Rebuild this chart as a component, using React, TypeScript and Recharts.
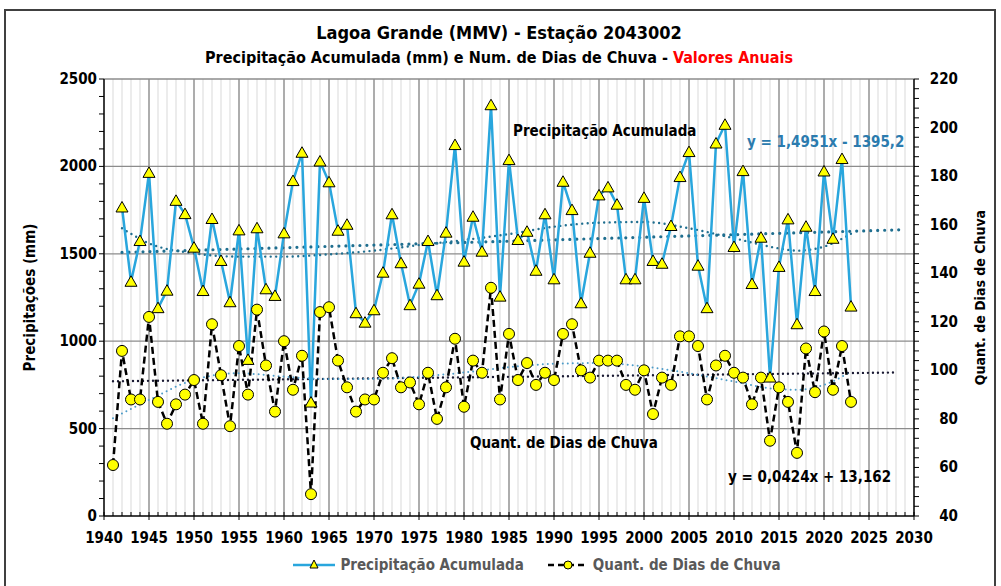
import React from "react";
import {
  ComposedChart,
  Line,
  XAxis,
  YAxis,
  CartesianGrid,
  ReferenceLine,
  Legend,
} from "recharts";

// annual values
const PRECIP_START = 1942;
const precipitacao = [
  1765, 1340, 1573, 1963, 1189, 1289, 1803, 1727, 1535, 1287, // 1942-1951
  1699, 1459, 1223, 1634, 893, 1646, 1297, 1259, 1617, 1916, // 1952-1961
  2078, 649, 2028, 1909, 1632, 1666, 1160, 1106, 1177, 1392, // 1962-1971
  1726, 1446, 1206, 1329, 1573, 1263, 1621, 2122, 1455, 1712, // 1972-1981
  1512, 2350, 1255, 2036, 1579, 1626, 1403, 1726, 1354, 1912, // 1982-1991
  1750, 1217, 1506, 1834, 1880, 1781, 1354, 1354, 1820, 1459, // 1992-2001
  1443, 1659, 1939, 2082, 1432, 1189, 2131, 2238, 1539, 1973, // 2002-2011
  1327, 1592, 792, 1425, 1697, 1097, 1655, 1287, 1971, 1586, // 2012-2021
  2042, 1198, // 2022-2023
];

const DIAS_START = 1941;
const diasChuva = [
  61, 108, 88, 88, 122, 87, 78, 86, 90, 96, // 1941-1950
  78, 119, 98, 77, 110, 90, 125, 102, 83, 112, // 1951-1960
  92, 106, 49, 124, 126, 104, 93, 83, 88, 88, // 1961-1970
  99, 105, 93, 95, 86, 99, 80, 93, 113, 85, // 1971-1980
  104, 99, 134, 88, 115, 96, 103, 94, 99, 96, // 1981-1990
  115, 119, 100, 97, 104, 104, 104, 94, 92, 100, // 1991-2000
  82, 97, 94, 114, 114, 110, 88, 102, 106, 99, // 2001-2010
  97, 86, 97, 71, 93, 87, 66, 109, 91, 116, // 2011-2020
  92, 110, 87, // 2021-2023
];

// trend lines, points
const precipLinear = [
  { year: 1942, v: 1508 },
  { year: 2029, v: 1638 },
];
const precipPoly = [
  { year: 1942, v: 1646 }, { year: 1945, v: 1560 }, { year: 1950, v: 1503 },
  { year: 1955, v: 1484 }, { year: 1960, v: 1484 }, { year: 1965, v: 1497 },
  { year: 1970, v: 1518 }, { year: 1975, v: 1550 }, { year: 1980, v: 1579 },
  { year: 1985, v: 1613 }, { year: 1990, v: 1655 }, { year: 1995, v: 1678 },
  { year: 2000, v: 1682 }, { year: 2005, v: 1646 }, { year: 2010, v: 1589 },
  { year: 2015, v: 1531 }, { year: 2017, v: 1518 }, { year: 2020, v: 1541 },
  { year: 2023, v: 1615 },
];
const diasLinear = [
  { year: 1941, v: 95.5 },
  { year: 2028, v: 99.1 },
];
const diasPoly = [
  { year: 1941, v: 80.3 }, { year: 1945, v: 87.8 }, { year: 1950, v: 96.1 },
  { year: 1955, v: 98.8 }, { year: 1960, v: 97.4 }, { year: 1965, v: 96.4 },
  { year: 1970, v: 96.5 }, { year: 1975, v: 97.4 }, { year: 1980, v: 99.1 },
  { year: 1985, v: 101.3 }, { year: 1990, v: 102.7 }, { year: 1995, v: 103 },
  { year: 2000, v: 101.6 }, { year: 2005, v: 98.8 }, { year: 2010, v: 95.4 },
  { year: 2015, v: 92.2 }, { year: 2017, v: 92 }, { year: 2020, v: 94 },
  { year: 2023, v: 99.5 },
];

const range = (a: number, b: number, step = 1) => {
  const out: number[] = [];
  for (let i = a; i <= b; i += step) out.push(i);
  return out;
};

const xTicks = range(1940, 2030);
const xMajor = range(1940, 2030, 5);
const leftTicks = range(0, 2500, 100);
const leftMajor = range(500, 2500, 500);
const rightTicks = range(40, 220, 4);

type Row = { year: number; [k: string]: number | null };

const buildRows = () => {
  const map = new Map<number, Row>();
  const get = (y: number) => {
    if (!map.has(y)) map.set(y, { year: y });
    return map.get(y)!;
  };
  precipitacao.forEach((v, i) => (get(PRECIP_START + i).precip = v));
  diasChuva.forEach((v, i) => (get(DIAS_START + i).dias = v));
  precipLinear.forEach((p) => (get(p.year).pLin = p.v));
  precipPoly.forEach((p) => (get(p.year).pPoly = p.v));
  diasLinear.forEach((p) => (get(p.year).dLin = p.v));
  diasPoly.forEach((p) => (get(p.year).dPoly = p.v));
  return [...map.values()].sort((a, b) => a.year - b.year);
};

const data = buildRows();

const FONT = "'Liberation Sans Narrow', 'DejaVu Sans Condensed', 'Liberation Sans', sans-serif";
const BLUE = "#29A6DD";
const TEAL = "#1F6E8F";

const TriangleDot = (props: any) => {
  const { cx, cy } = props;
  if (cx == null || cy == null || isNaN(cy)) return null;
  return (
    <path
      d={`M${cx},${cy - 6} L${cx + 6},${cy + 4.5} L${cx - 6},${cy + 4.5} Z`}
      fill="#FFFF00"
      stroke="#000"
      strokeWidth={1}
    />
  );
};

const CircleDot = (props: any) => {
  const { cx, cy } = props;
  if (cx == null || cy == null || isNaN(cy)) return null;
  return <circle cx={cx} cy={cy} r={5.5} fill="#FFFF00" stroke="#000" strokeWidth={1} />;
};

const XTick = (props: any) => {
  const { x, y, payload } = props;
  const v = payload.value;
  const major = v % 5 === 0;
  return (
    <g>
      <line x1={x} x2={x} y1={y - 4} y2={major ? y + 4 : y} stroke="#000" />
      {major && (
        <text x={x} y={y + 27} textAnchor="middle" fontFamily={FONT} fontWeight="bold" fontSize={15} fill="#000">
          {v}
        </text>
      )}
    </g>
  );
};

const LeftTick = (props: any) => {
  const { x, y, payload } = props;
  if (payload.value % 500 !== 0) return <g />;
  return (
    <text x={x} y={y + 5} textAnchor="end" fontFamily={FONT} fontWeight="bold" fontSize={15} fill="#000">
      {payload.value}
    </text>
  );
};

const RightTick = (props: any) => {
  const { x, y, payload } = props;
  if (payload.value % 20 !== 0) return <g />;
  return (
    <text x={x} y={y + 5} textAnchor="end" fontFamily={FONT} fontWeight="bold" fontSize={15} fill="#000">
      {payload.value}
    </text>
  );
};

const LegendContent = () => (
  <div
    style={{
      display: "flex",
      justifyContent: "center",
      alignItems: "center",
      paddingLeft: 76,
      fontFamily: FONT,
      fontWeight: "bold",
      fontSize: 15,
      color: "#595959",
    }}
  >
    <svg width={42} height={14}>
      <line x1={0} x2={42} y1={7} y2={7} stroke={BLUE} strokeWidth={2.5} />
      <path d="M21,2 L25,10 L17,10 Z" fill="#FFFF00" stroke="#000" strokeWidth={1} />
    </svg>
    <span style={{ marginLeft: 5, marginRight: 24 }}>Precipitação Acumulada</span>
    <svg width={40} height={14}>
      <line x1={0} x2={40} y1={7} y2={7} stroke="#000" strokeWidth={2.5} strokeDasharray="6 4" />
      <circle cx={20} cy={7} r={4} fill="#FFFF00" stroke="#000" strokeWidth={1} />
    </svg>
    <span style={{ marginLeft: 5 }}>Quant. de Dias de Chuva</span>
  </div>
);

const note = (left: number, top: number, size: number, color = "#000"): React.CSSProperties => ({
  position: "absolute",
  left,
  top,
  fontFamily: FONT,
  fontWeight: "bold",
  fontSize: size,
  color,
  whiteSpace: "nowrap",
  lineHeight: "20px",
});

export default function App() {
  return (
    <div
      style={{
        position: "absolute",
        left: 4,
        top: 9,
        width: 992,
        height: 600,
        border: "2px solid #404040",
        boxSizing: "border-box",
        background: "#fff",
      }}
    >
      <div style={{ ...note(0, 12, 18), width: 986, textAlign: "center" }}>
        Lagoa Grande (MMV) - Estação 2043002
      </div>
      <div style={{ ...note(0, 37, 16), width: 986, textAlign: "center" }}>
        Precipitação Acumulada (mm) e Num. de Dias de Chuva -{" "}
        <span style={{ color: "#FF0000" }}>Valores Anuais</span>
      </div>

      <ComposedChart
        width={986}
        height={575}
        data={data}
        margin={{ top: 68, right: 18, bottom: 40, left: 38 }}
      >
        <CartesianGrid horizontal={false} stroke="#D9D9D9" strokeWidth={1} />
        {xMajor.map((y) => (
          <ReferenceLine key={`vx${y}`} x={y} yAxisId="left" stroke="#8C8C8C" strokeWidth={1.3} />
        ))}
        {leftMajor.map((v) => (
          <ReferenceLine key={`hy${v}`} y={v} yAxisId="left" stroke="#8C8C8C" strokeWidth={1.3} />
        ))}
        <XAxis
          dataKey="year"
          type="number"
          domain={[1940, 2030]}
          ticks={xTicks}
          interval={0}
          tick={<XTick />}
          tickLine={false}
          tickSize={0}
          tickMargin={0}
          height={30}
          axisLine={{ stroke: "#000", strokeWidth: 1.3 }}
        />
        <YAxis
          yAxisId="left"
          domain={[0, 2500]}
          ticks={leftTicks}
          interval={0}
          tick={<LeftTick />}
          tickSize={5}
          tickMargin={2}
          tickLine={{ stroke: "#000" }}
          width={60}
          axisLine={{ stroke: "#000", strokeWidth: 1.3 }}
          label={{
            content: (p: any) => {
              const vb = p.viewBox;
              const cx = vb.x - 14;
              const cy = vb.y + vb.height / 2;
              return (
                <text x={cx} y={cy} transform={`rotate(-90 ${cx} ${cy})`} textAnchor="middle" dominantBaseline="central" fontFamily={FONT} fontWeight="bold" fontSize={15} fill="#000">
                  Precipitações (mm)
                </text>
              );
            },
          }}
        />
        <YAxis
          yAxisId="right"
          orientation="right"
          domain={[40, 220]}
          ticks={rightTicks}
          interval={0}
          tick={<RightTick />}
          tickSize={5}
          tickMargin={39}
          tickLine={{ stroke: "#000" }}
          width={60}
          axisLine={{ stroke: "#000", strokeWidth: 1.3 }}
          label={{
            content: (p: any) => {
              const vb = p.viewBox;
              const cx = vb.x + 66;
              const cy = vb.y + vb.height / 2;
              return (
                <text x={cx} y={cy} transform={`rotate(-90 ${cx} ${cy})`} textAnchor="middle" dominantBaseline="central" fontFamily={FONT} fontWeight="bold" fontSize={14} fill="#000">
                  Quant. de Dias de Chuva
                </text>
              );
            },
          }}
        />
        <Legend
          verticalAlign="middle"
          align="center"
          wrapperStyle={{ left: 0, top: 545, width: 986 }}
          content={<LegendContent />}
        />

        <Line
          yAxisId="left"
          dataKey="pLin"
          connectNulls
          dot={false}
          stroke={TEAL}
          strokeWidth={3.2}
          strokeDasharray="0 7"
          strokeLinecap="round"
          isAnimationActive={false}
          legendType="none"
        />
        <Line
          yAxisId="left"
          type="monotone"
          dataKey="pPoly"
          connectNulls
          dot={false}
          stroke={TEAL}
          strokeWidth={2.4}
          strokeDasharray="0 5.5"
          strokeLinecap="round"
          isAnimationActive={false}
          legendType="none"
        />
        <Line
          yAxisId="right"
          dataKey="dLin"
          connectNulls
          dot={false}
          stroke="#1A1A33"
          strokeWidth={2.4}
          strokeDasharray="0 5"
          strokeLinecap="round"
          isAnimationActive={false}
          legendType="none"
        />
        <Line
          yAxisId="right"
          type="monotone"
          dataKey="dPoly"
          connectNulls
          dot={false}
          stroke="#4D9CC9"
          strokeWidth={2}
          strokeDasharray="0 5"
          strokeLinecap="round"
          isAnimationActive={false}
          legendType="none"
        />
        <Line
          yAxisId="right"
          dataKey="dias"
          name="Quant. de Dias de Chuva"
          stroke="#000"
          strokeWidth={2.5}
          strokeDasharray="7 4"
          dot={<CircleDot />}
          activeDot={false}
          isAnimationActive={false}
        />
        <Line
          yAxisId="left"
          dataKey="precip"
          name="Precipitação Acumulada"
          stroke={BLUE}
          strokeWidth={2.5}
          dot={<TriangleDot />}
          activeDot={false}
          isAnimationActive={false}
        />
      </ComposedChart>

      <div style={note(507, 110, 15)}>Precipitação Acumulada</div>
      <div style={note(741, 121, 15, "#2B7BAE")}>y = 1,4951x - 1395,2</div>
      <div style={note(464, 422, 15)}>Quant. de Dias de Chuva</div>
      <div style={note(722, 456, 15)}>y = 0,0424x + 13,162</div>
    </div>
  );
}
